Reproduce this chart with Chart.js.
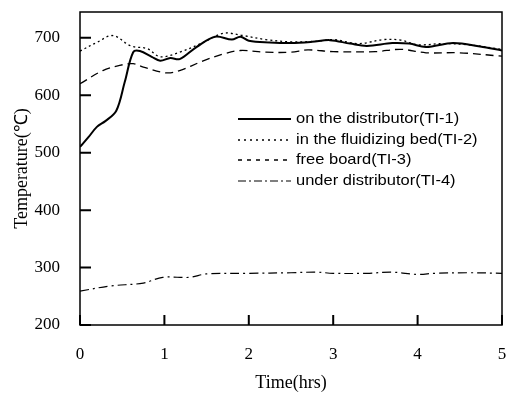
<!DOCTYPE html>
<html>
<head>
<meta charset="utf-8">
<script src="https://cdn.jsdelivr.net/npm/chart.js@4/dist/chart.umd.min.js"></script>
<style>
    html, body { margin: 0; padding: 0; background: #fff; }
    #wrap { width: 507px; height: 394px; }
</style>
</head>
<body>
<div id="wrap"><canvas id="chart"></canvas></div>
<script>
// values (time in hrs, temperature in C)
const seriesLabels = [
    'on the distributor(TI-1)',
    'in the fluidizing bed(TI-2)',
    'free board(TI-3)',
    'under distributor(TI-4)',
]
const xTicks = [0, 1, 2, 3, 4, 5]
const yTicks = [200, 300, 400, 500, 600, 700]

const t1Time = [0, 0.1, 0.2, 0.3, 0.43, 0.53, 0.63, 0.71, 0.85, 0.95, 1.07, 1.18, 1.38, 1.6, 1.8, 1.9, 2.0, 2.25, 2.5, 2.75, 2.96, 3.2, 3.4, 3.7, 3.9, 4.1, 4.42, 4.74, 5]
const t1Temp = [510, 527, 545, 555, 573, 623, 675, 677, 667, 660, 665, 663, 684, 702, 697, 702, 695, 692, 691, 693, 696, 690, 686, 691, 690, 684, 691, 685, 678]

const t2Time = [0, 0.2, 0.39, 0.6, 0.8, 0.95, 1.18, 1.46, 1.7, 1.93, 2.2, 2.5, 2.8, 3.0, 3.3, 3.6, 3.8, 4.0, 4.3, 4.6, 5]
const t2Temp = [677, 692, 704, 686, 681, 667, 675, 692, 708, 704, 697, 693, 694, 697, 690, 697, 696, 688, 690, 688, 680]

const t3Time = [0, 0.27, 0.47, 0.63, 0.75, 1.02, 1.18, 1.46, 1.7, 1.9, 2.2, 2.5, 2.7, 3.0, 3.5, 3.8, 4.1, 4.5, 5]
const t3Temp = [620, 643, 652, 655, 649, 639, 643, 660, 672, 678, 675, 675, 679, 676, 676, 680, 674, 674, 668]

const t4Time = [0, 0.36, 0.75, 0.98, 1.3, 1.5, 2.0, 2.5, 2.8, 3.0, 3.4, 3.7, 4.0, 4.2, 4.6, 5]
const t4Temp = [259, 268, 273, 283, 283, 289, 290, 291, 292, 290, 290, 292, 288, 290, 291, 290]

const toPoints = (xs, ys) => xs.map((x, i) => ({ x: x, y: ys[i] }))

const serif = 'Liberation Serif'

// frame, inward ticks and the legend inside the plot
const framePlugin = {
    id: 'frame',
    afterDraw(chart) {
        const ctx = chart.ctx
        const a = chart.chartArea
        const xs = chart.scales.x
        const ys = chart.scales.y
        ctx.save()
        ctx.strokeStyle = '#000'
        ctx.lineWidth = 1.5
        ctx.setLineDash([])
        ctx.strokeRect(a.left, a.top, a.right - a.left, a.bottom - a.top)
        ctx.lineWidth = 2
        ctx.beginPath()
        yTicks.forEach((v) => {
            const y = ys.getPixelForValue(v)
            ctx.moveTo(a.left, y)
            ctx.lineTo(a.left + 11, y)
        })
        xTicks.forEach((v) => {
            const x = xs.getPixelForValue(v)
            ctx.moveTo(x, a.bottom)
            ctx.lineTo(x, a.bottom - 10)
        })
        ctx.stroke()

        // legend
        const x0 = 238
        const x1 = 291
        const rows = [119, 140, 160, 181]
        ctx.font = '15px "Liberation Sans"'
        ctx.fillStyle = '#000'
        ctx.textBaseline = 'middle'
        chart.data.datasets.forEach((ds, i) => {
            ctx.beginPath()
            ctx.lineWidth = ds.borderWidth
            ctx.setLineDash(ds.legendDash || ds.borderDash || [])
            ctx.moveTo(x0, rows[i])
            ctx.lineTo(x1, rows[i])
            ctx.stroke()
            ctx.save()
            ctx.translate(x1 + 5, rows[i])
            ctx.scale(1.1, 1)
            ctx.fillText(ds.label, 0, 0)
            ctx.restore()
        })
        ctx.restore()
    },
}

const ctx = document.getElementById('chart').getContext('2d')
new Chart(ctx, {
    type: 'line',
    data: {
        datasets: [
            {
                label: seriesLabels[0],
                data: toPoints(t1Time, t1Temp),
                borderWidth: 2,
            },
            {
                label: seriesLabels[1],
                data: toPoints(t2Time, t2Temp),
                borderWidth: 1.3,
                borderDash: [2, 3],
                legendDash: [2, 4],
            },
            {
                label: seriesLabels[2],
                data: toPoints(t3Time, t3Temp),
                borderWidth: 1.3,
                borderDash: [8, 5],
                legendDash: [4, 5],
            },
            {
                label: seriesLabels[3],
                data: toPoints(t4Time, t4Temp),
                borderWidth: 1.2,
                borderDash: [9, 4, 2, 4],
                legendDash: [8, 3, 2, 3],
            },
        ],
    },
    options: {
        responsive: true,
        maintainAspectRatio: false,
        animation: false,
        layout: { padding: { top: 12, right: 5, left: 0, bottom: 0 } },
        elements: {
            point: { radius: 0 },
            line: { borderColor: '#000', tension: 0.35, fill: false },
        },
        plugins: {
            legend: { display: false },
            tooltip: { enabled: false },
        },
        scales: {
            x: {
                type: 'linear',
                min: 0,
                max: 5,
                grid: { display: false },
                border: { display: false },
                afterBuildTicks: (s) => {
                    s.ticks = xTicks.map((v) => ({ value: v }))
                },
                afterFit: (s) => {
                    s.height = 69
                    s.paddingLeft = 0
                    s.paddingRight = 0
                },
                ticks: {
                    color: '#000',
                    padding: 11,
                    maxRotation: 0,
                    font: { family: serif, size: 17 },
                },
                title: {
                    display: true,
                    text: 'Time(hrs)',
                    color: '#000',
                    padding: 0,
                    font: { family: serif, size: 18 },
                },
            },
            y: {
                min: 200,
                max: 745,
                grid: { display: false },
                border: { display: false },
                afterBuildTicks: (s) => {
                    s.ticks = yTicks.map((v) => ({ value: v }))
                },
                afterFit: (s) => {
                    s.width = 80
                    s.paddingTop = 0
                    s.paddingBottom = 0
                },
                ticks: {
                    color: '#000',
                    padding: 12,
                    font: { family: serif, size: 17 },
                },
                title: {
                    display: true,
                    text: 'Temperature(℃)',
                    color: '#000',
                    padding: { top: 11, bottom: 0 },
                    font: { family: serif, size: 18 },
                },
            },
        },
    },
    plugins: [framePlugin],
})
</script>
</body>
</html>
